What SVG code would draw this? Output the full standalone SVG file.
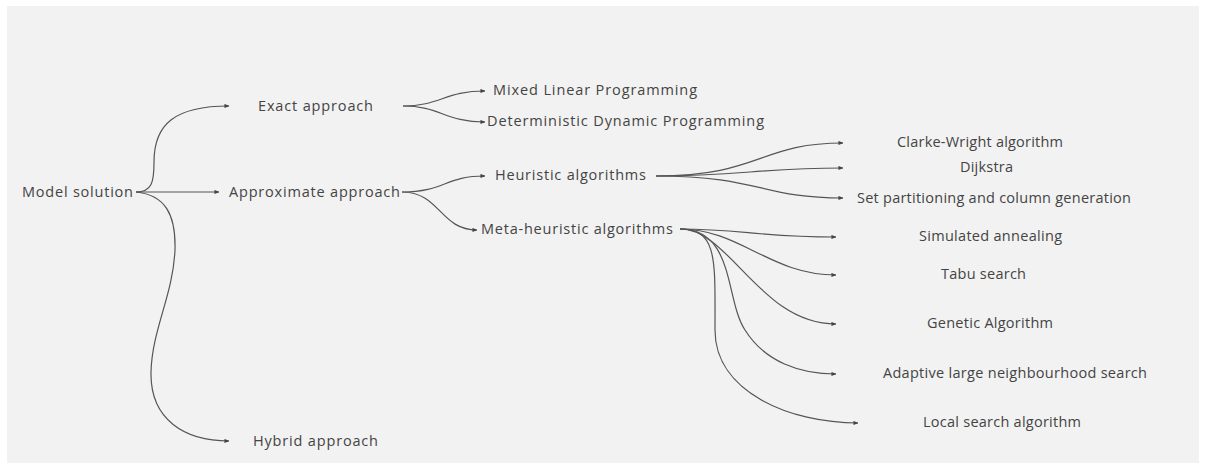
<svg xmlns="http://www.w3.org/2000/svg" width="1205" height="468" viewBox="0 0 1205 468">
  <style>
    .lbl { font-family: "Open Sans", "Noto Sans", "DejaVu Sans", sans-serif; font-size: 14.5px; fill: #444; }
    .edge { fill: none; stroke: #555; stroke-width: 1.2; marker-end: url(#arrow); }
  </style>
  <defs>
    <marker id="arrow" viewBox="0 0 6 6" refX="5.5" refY="3" markerWidth="5" markerHeight="5" markerUnits="userSpaceOnUse" orient="auto">
      <path d="M0,0.5 L6,3 L0,5.5 Z" fill="#444"/>
    </marker>
  </defs>
  <rect width="1205" height="468" fill="#ffffff"/>
  <rect x="7" y="6" width="1192" height="457" fill="#f2f2f2"/>

  <g id="connectors">
    <!-- root -->
    <path class="edge" d="M136,192 C152,192 154,182 154,162 C154,124 175,106 229,106"/>
    <path class="edge" d="M136,192 L219,192"/>
    <path class="edge" d="M136,192 C165,195 176,214 175,250 C173,295 152,330 151,372 C150,420 185,441 229,441"/>
    <!-- exact approach -->
    <path class="edge" d="M403,106 C440,106 445,91 485,91"/>
    <path class="edge" d="M403,106 C440,106 445,122 485,122"/>
    <!-- approximate approach -->
    <path class="edge" d="M402,192 C445,192 445,176 485,176"/>
    <path class="edge" d="M402,192 C440,192 440,230 477,230"/>
    <!-- heuristic algorithms -->
    <path class="edge" d="M656,176 C760,176 760,143 843,143"/>
    <path class="edge" d="M656,176 C740,176 760,168 843,168"/>
    <path class="edge" d="M656,176 C760,176 760,198 843,198"/>
    <!-- meta-heuristic algorithms -->
    <path class="edge" d="M680,229 C740,229 760,237 836,237"/>
    <path class="edge" d="M680,229 C740,229 770,275 836,275"/>
    <path class="edge" d="M680,229 C730,229 760,324 836,324"/>
    <path class="edge" d="M680,229 C735,229 725,300 745,330 C765,362 800,374 836,374"/>
    <path class="edge" d="M680,229 C718,229 715,260 715,330 C715,392 790,423 858,423"/>
  </g>

  <g id="model-solution"><text class="lbl" x="22" y="197" textLength="111">Model solution</text></g>
  <g id="exact-approach"><text class="lbl" x="258" y="111" textLength="115">Exact approach</text></g>
  <g id="approximate-approach"><text class="lbl" x="229" y="197" textLength="171">Approximate approach</text></g>
  <g id="hybrid-approach"><text class="lbl" x="253" y="446" textLength="125">Hybrid approach</text></g>
  <g id="mixed-linear"><text class="lbl" x="493" y="95" textLength="204">Mixed Linear Programming</text></g>
  <g id="deterministic-dp"><text class="lbl" x="487" y="126" textLength="277">Deterministic Dynamic Programming</text></g>
  <g id="heuristic"><text class="lbl" x="495" y="180" textLength="151">Heuristic algorithms</text></g>
  <g id="meta-heuristic"><text class="lbl" x="481" y="234" textLength="192">Meta-heuristic algorithms</text></g>
  <g id="clarke-wright"><text class="lbl" x="897" y="147" textLength="166">Clarke-Wright algorithm</text></g>
  <g id="dijkstra"><text class="lbl" x="960" y="172" textLength="53">Dijkstra</text></g>
  <g id="set-partitioning"><text class="lbl" x="857" y="203" textLength="274">Set partitioning and column generation</text></g>
  <g id="simulated-annealing"><text class="lbl" x="919" y="241" textLength="143">Simulated annealing</text></g>
  <g id="tabu-search"><text class="lbl" x="941" y="279" textLength="85">Tabu search</text></g>
  <g id="genetic-algorithm"><text class="lbl" x="927" y="328" textLength="126">Genetic Algorithm</text></g>
  <g id="alns"><text class="lbl" x="883" y="378" textLength="264">Adaptive large neighbourhood search</text></g>
  <g id="local-search"><text class="lbl" x="923" y="427" textLength="158">Local search algorithm</text></g>
</svg>
